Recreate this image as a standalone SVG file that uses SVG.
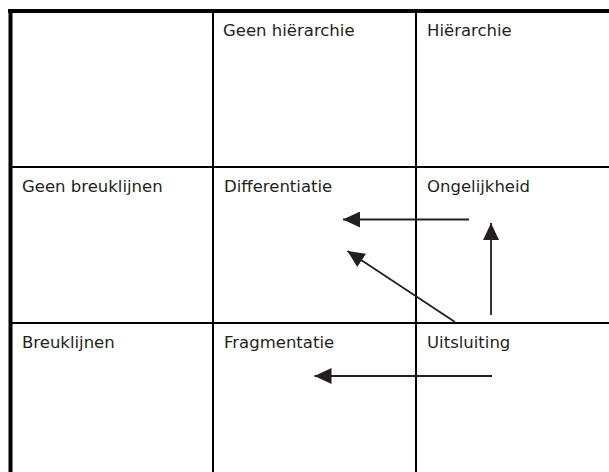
<svg xmlns="http://www.w3.org/2000/svg" width="609" height="472" viewBox="0 0 609 472">
<style>
.t{font-family:"DejaVu Sans","Liberation Sans",sans-serif;font-size:16.5px;fill:#231f20}
.g{stroke:#000;stroke-width:2;fill:none}
.o{stroke:#000;stroke-width:4;fill:none}
.a{stroke:#231f20;stroke-width:1.8;fill:none;marker-end:url(#ah)}
</style>
<defs>
<marker id="ah" markerUnits="userSpaceOnUse" markerWidth="17" markerHeight="16" refX="16" refY="7.5" orient="auto" viewBox="0 0 16 15">
<path d="M0,0 L16,7.5 L0,15 z" fill="#231f20"/>
</marker>
</defs>
<rect width="609" height="472" fill="#fff"/>
<g id="grid">
<line class="g" x1="213" y1="11" x2="213" y2="472"/>
<line class="g" x1="416" y1="11" x2="416" y2="472"/>
<line class="g" x1="10" y1="167" x2="609" y2="167"/>
<line class="g" x1="10" y1="323" x2="609" y2="323"/>
<line class="o" x1="8" y1="11" x2="609" y2="11"/>
<line class="o" x1="10.5" y1="9" x2="10.5" y2="472"/>
</g>
<g id="header-geen-hierarchie"><text class="t" x="223" y="36">Geen hiërarchie</text></g>
<g id="header-hierarchie"><text class="t" x="427" y="36">Hiërarchie</text></g>
<g id="row-geen-breuklijnen"><text class="t" x="22" y="192">Geen breuklijnen</text></g>
<g id="node-differentiatie"><text class="t" x="224" y="192">Differentiatie</text></g>
<g id="node-ongelijkheid"><text class="t" x="427" y="192">Ongelijkheid</text></g>
<g id="row-breuklijnen"><text class="t" x="22" y="348">Breuklijnen</text></g>
<g id="node-fragmentatie"><text class="t" x="224" y="348">Fragmentatie</text></g>
<g id="node-uitsluiting"><text class="t" x="427" y="348">Uitsluiting</text></g>
<g id="connectors">
<line class="a" x1="469" y1="219.5" x2="343" y2="219.5"/>
<line class="a" x1="491" y1="315" x2="491" y2="223"/>
<line class="a" x1="455" y1="322" x2="347.5" y2="251"/>
<line class="a" x1="492" y1="376" x2="314.5" y2="376"/>
</g>
</svg>
